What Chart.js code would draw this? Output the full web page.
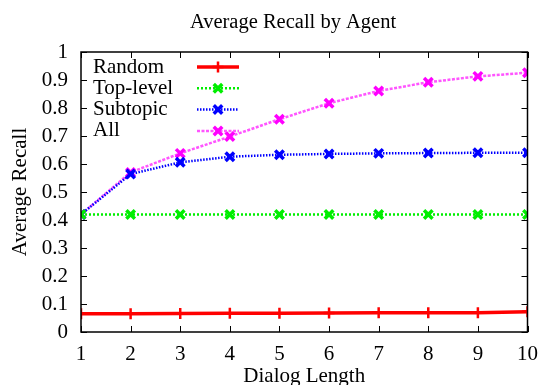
<!DOCTYPE html>
<html>
<head>
<meta charset="utf-8">
<script src="https://cdn.jsdelivr.net/npm/chart.js@4.4.1/dist/chart.umd.min.js"></script>
<style>
  html, body { margin: 0; padding: 0; background: #ffffff; }
  #wrap { width: 548px; height: 385px; }
</style>
</head>
<body>
<div id="wrap"><canvas id="c" width="548" height="385"></canvas></div>
<script>
const dialogLength = [1, 2, 3, 4, 5, 6, 7, 8, 9, 10];
const randomRecall = [0.065, 0.065, 0.066, 0.067, 0.067, 0.068, 0.069, 0.069, 0.069, 0.072];
const topLevelRecall = [0.42, 0.42, 0.42, 0.42, 0.42, 0.42, 0.42, 0.42, 0.42, 0.42];
const subtopicRecall = [0.42, 0.564, 0.606, 0.626, 0.633, 0.636, 0.638, 0.639, 0.640, 0.640];
const allRecall = [0.42, 0.570, 0.638, 0.698, 0.760, 0.817, 0.861, 0.892, 0.913, 0.926];
const xTicks = [1, 2, 3, 4, 5, 6, 7, 8, 9, 10];
const yTicks = [0, 0.1, 0.2, 0.3, 0.4, 0.5, 0.6, 0.7, 0.8, 0.9, 1];
const seriesNames = ['Random', 'Top-level', 'Subtopic', 'All'];

const FONT = '"Liberation Serif", "Times New Roman", serif';
const FS = 21;
const TITLE_LEFT = 53;

function pts(vals) { return vals.map((v, i) => ({ x: dialogLength[i], y: v })); }

const datasets = [
  { label: seriesNames[0], data: pts(randomRecall), borderColor: '#ff0000', backgroundColor: '#ff0000',
    borderWidth: 3.5, pointStyle: 'cross', pointRadius: 5.5, pointBorderWidth: 2.5, borderDash: [] },
  { label: seriesNames[1], data: pts(topLevelRecall), borderColor: '#00ee00', backgroundColor: '#00ee00',
    borderWidth: 2.5, pointStyle: 'crossRot', pointRadius: 6, pointBorderWidth: 3.5, borderDash: [2, 2] },
  { label: seriesNames[2], data: pts(subtopicRecall), borderColor: '#0000ff', backgroundColor: '#0000ff',
    borderWidth: 2.5, pointStyle: 'crossRot', pointRadius: 6, pointBorderWidth: 3.5, borderDash: [1.5, 1.5] },
  { label: seriesNames[3], data: pts(allRecall), borderColor: '#ff55ff', backgroundColor: '#ff00ff',
    borderWidth: 2.5, pointStyle: 'crossRot', pointRadius: 6, pointBorderWidth: 3.5, borderDash: [3, 1.5] }
];
datasets.forEach(d => { d.pointBorderColor = d.backgroundColor; d.fill = false; d.tension = 0; });

const shiftTitle = {
  id: 'shiftTitle',
  afterLayout(chart) {
    if (chart.titleBlock) chart.titleBlock.left = TITLE_LEFT;
  }
};

const frameAndTicks = {
  id: 'frameAndTicks',
  afterDatasetsDraw(chart) {
    const ctx = chart.ctx, a = chart.chartArea;
    const xs = chart.scales.x, ys = chart.scales.y;
    ctx.save();
    ctx.strokeStyle = '#000';
    ctx.lineWidth = 1;
    ctx.beginPath();
    xTicks.forEach(t => {
      const px = Math.round(xs.getPixelForValue(t)) + 0.5;
      ctx.moveTo(px, a.bottom); ctx.lineTo(px, a.bottom - 6);
      ctx.moveTo(px, a.top); ctx.lineTo(px, a.top + 6);
    });
    yTicks.forEach(t => {
      const py = Math.round(ys.getPixelForValue(t)) + 0.5;
      ctx.moveTo(a.left, py); ctx.lineTo(a.left + 6, py);
      ctx.moveTo(a.right, py); ctx.lineTo(a.right - 6, py);
    });
    ctx.stroke();
    ctx.lineWidth = 1.5;
    ctx.strokeRect(a.left, a.top, a.right - a.left, a.bottom - a.top);
    // legend inside plot, gnuplot style
    ctx.font = FS + 'px ' + FONT;
    ctx.fillStyle = '#000';
    ctx.textBaseline = 'middle';
    ctx.textAlign = 'left';
    chart.data.datasets.forEach((d, i) => {
      const y = a.top + 15 + i * 21.3;
      ctx.fillText(d.label, a.left + 12, y);
      const x0 = a.left + 116, x1 = a.left + 158;
      ctx.save();
      ctx.strokeStyle = d.borderColor;
      ctx.lineWidth = d.borderWidth;
      ctx.setLineDash(d.borderDash || []);
      ctx.beginPath(); ctx.moveTo(x0, y); ctx.lineTo(x1, y); ctx.stroke();
      ctx.setLineDash([]);
      ctx.strokeStyle = d.backgroundColor;
      ctx.lineWidth = d.pointBorderWidth;
      const cx = (x0 + x1) / 2, r = d.pointRadius;
      ctx.beginPath();
      if (d.pointStyle === 'cross') {
        ctx.moveTo(cx - r, y); ctx.lineTo(cx + r, y);
        ctx.moveTo(cx, y - r); ctx.lineTo(cx, y + r);
      } else {
        const q = r * 0.707;
        ctx.moveTo(cx - q, y - q); ctx.lineTo(cx + q, y + q);
        ctx.moveTo(cx + q, y - q); ctx.lineTo(cx - q, y + q);
      }
      ctx.stroke();
      ctx.restore();
    });
    ctx.restore();
  }
};

new Chart(document.getElementById('c'), {
  type: 'line',
  data: { datasets },
  options: {
    responsive: false,
    animation: false,
    layout: { padding: { left: 0, right: 15, top: 0, bottom: 0 } },
    plugins: {
      legend: { display: false },
      tooltip: { enabled: false },
      title: {
        display: true, text: 'Average Recall by Agent', color: '#000',
        font: { family: FONT, size: 20.5, weight: 'normal' },
        padding: { top: 10, bottom: 17.4 }
      }
    },
    scales: {
      x: {
        type: 'linear', min: 1, max: 10,
        afterBuildTicks(s) { s.ticks = xTicks.map(v => ({ value: v })); },
        afterFit(s) { s.height = 53; },
        grid: { display: false, drawTicks: false },
        border: { display: false },
        ticks: { color: '#000', font: { family: FONT, size: FS }, padding: 10, maxRotation: 0, autoSkip: false },
        title: { display: true, text: 'Dialog Length', color: '#000', font: { family: FONT, size: FS }, padding: { top: 0, bottom: -4 } }
      },
      y: {
        type: 'linear', min: 0, max: 1,
        afterBuildTicks(s) { s.ticks = yTicks.map(v => ({ value: v })); },
        afterFit(s) { s.width = 81; },
        grid: { display: false, drawTicks: false },
        border: { display: false },
        ticks: { color: '#000', font: { family: FONT, size: FS }, padding: 13, autoSkip: false,
                 callback: v => String(Math.round(v * 10) / 10) },
        title: { display: true, text: 'Average Recall', color: '#000', font: { family: FONT, size: FS }, padding: { top: 8, bottom: 0 } }
      }
    }
  },
  plugins: [shiftTitle, frameAndTicks]
});
</script>
</body>
</html>
